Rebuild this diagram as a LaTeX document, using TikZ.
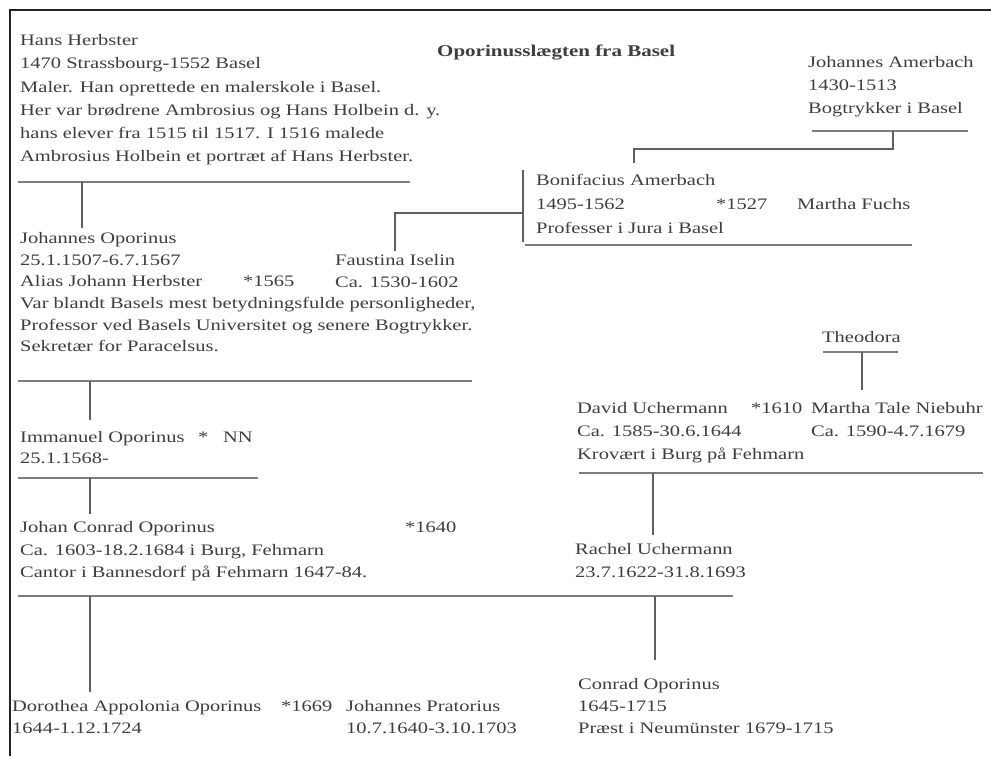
\documentclass[tikz,border=0pt]{standalone}
\usepackage{fontspec}
\setmainfont{Liberation Serif}[FakeStretch=1.28]
\definecolor{txt}{RGB}{62,62,62}
\definecolor{ulc}{RGB}{125,125,125}
\definecolor{vlc}{RGB}{95,95,95}
\definecolor{framec}{RGB}{35,35,35}
\begin{document}
\begin{tikzpicture}[x=1pt,y=-1pt,
  personbox/.style={anchor=north west, inner sep=0pt, align=left, text=txt, font=\fontsize{16}{#1}\selectfont},
  personbox/.default=22,
  smalltxt/.style={anchor=base west, inner sep=0pt, text=txt, font=\fontsize{16}{20}\selectfont},
  titletxt/.style={anchor=base west, inner sep=0pt, text=txt, font=\bfseries\fontsize{16.4}{20}\selectfont},
  underln/.style={draw=ulc, line width=2pt},
  connln/.style={draw=vlc, line width=1.2pt},
  ]
\useasboundingbox (0,0) rectangle (991,756);
\fill[white] (0,0) rectangle (991,756);
\draw[framec, line width=2.5pt] (10,756) -- (10,10) -- (991,10);

% title
\node[titletxt] (title) at (437,56) {Oporinusslægten fra Basel};

% persons
\node[personbox=23.2] (hh) at (20,34.4) {Hans Herbster\\1470 Strassbourg-1552 Basel\\Maler. Han oprettede en malerskole i Basel.\\Her var brødrene Ambrosius og Hans Holbein d. y.\\hans elever fra 1515 til 1517. I 1516 malede\\Ambrosius Holbein et portræt af Hans Herbster.};
\node[personbox=23] (ja) at (808,56.4) {Johannes Amerbach\\1430-1513\\Bogtrykker i Basel};
\node[personbox=24] (ba) at (536,174.4) {Bonifacius Amerbach\\1495-1562\\Professer i Jura i Basel};
\node[smalltxt] (bam) at (716,209.5) {*1527};
\node[smalltxt] (mf) at (797,209.5) {Martha Fuchs};
\node[personbox=21.6] (jo) at (20,232.4) {Johannes Oporinus\\25.1.1507-6.7.1567\\Alias Johann Herbster\\Var blandt Basels mest betydningsfulde personligheder,\\Professor ved Basels Universitet og senere Bogtrykker.\\Sekretær for Paracelsus.};
\node[smalltxt] (jom) at (243,286.7) {*1565};
\node[personbox=21.6] (fi) at (335,254.6) {Faustina Iselin\\Ca. 1530-1602};
\node[personbox] (th) at (822,331.4) {Theodora};
\node[personbox=23] (du) at (577,402.4) {David Uchermann\\Ca. 1585-30.6.1644\\Krovært i Burg på Fehmarn};
\node[smalltxt] (dum) at (751,413.5) {*1610};
\node[personbox=23] (mt) at (811,402.4) {Martha Tale Niebuhr\\Ca. 1590-4.7.1679};
\node[personbox=21] (im) at (20,431.4) {Immanuel Oporinus\\25.1.1568-};
\node[smalltxt] (imm) at (198,442.5) {*};
\node[smalltxt] (nn) at (223,442.5) {NN};
\node[personbox=23] (ru) at (575,543.4) {Rachel Uchermann\\23.7.1622-31.8.1693};
\node[personbox=22.5] (jc) at (20,521.4) {Johan Conrad Oporinus\\Ca. 1603-18.2.1684 i Burg, Fehmarn\\Cantor i Bannesdorf på Fehmarn 1647-84.};
\node[smalltxt] (jcm) at (405,532.5) {*1640};
\node[personbox=22] (do) at (12,700.4) {Dorothea Appolonia Oporinus\\1644-1.12.1724};
\node[smalltxt] (dom) at (281,711.5) {*1669};
\node[personbox=22] (jp) at (346,700.4) {Johannes Pratorius\\10.7.1640-3.10.1703};
\node[personbox=22] (co) at (578,678.4) {Conrad Oporinus\\1645-1715\\Præst i Neumünster 1679-1715};

% coordinates for lines
\coordinate (hhL) at (18,182);  \coordinate (hhR) at (410,182);
\coordinate (hhD) at (82,182);  \coordinate (joT) at (82,228);
\coordinate (jaL) at (812,131); \coordinate (jaR) at (968,131);
\coordinate (jaD) at (893,131); \coordinate (jaE) at (893,149);
\coordinate (baE) at (634,149); \coordinate (baT) at (634,163);
\coordinate (brT) at (523,170); \coordinate (brB) at (523,242);
\coordinate (brM) at (523,213); \coordinate (fiE) at (395,213);
\coordinate (fiT) at (395,251);
\coordinate (baL) at (525,245); \coordinate (baR) at (912,245);
\coordinate (joL) at (18,381);  \coordinate (joR) at (472,381);
\coordinate (joD) at (90,381);  \coordinate (imT) at (90,420);
\coordinate (thL) at (823,352); \coordinate (thR) at (898,352);
\coordinate (thD) at (862,352); \coordinate (mtT) at (862,390);
\coordinate (duL) at (579,473); \coordinate (duR) at (983,473);
\coordinate (duD) at (653,473); \coordinate (ruT) at (653,535);
\coordinate (imL) at (18,478);  \coordinate (imR) at (258,478);
\coordinate (imD) at (90,478);  \coordinate (jcT) at (90,514);
\coordinate (jcL) at (18,596);  \coordinate (jcR) at (733,596);
\coordinate (jcD) at (90,596);  \coordinate (doT) at (90,692);
\coordinate (ruD) at (655,596); \coordinate (coT) at (655,660);

% underlines
\draw[underln] (hhL) -- (hhR);
\draw[underln] (jaL) -- (jaR);
\draw[underln] (baL) -- (baR);
\draw[underln] (joL) -- (joR);
\draw[underln] (thL) -- (thR);
\draw[underln] (duL) -- (duR);
\draw[underln] (imL) -- (imR);
\draw[underln] (jcL) -- (jcR);

% connectors
\draw[connln] (hhD) -- (joT);
\draw[connln] (jaD) -- (jaE) -- (baE) -- (baT);
\draw[connln] (brT) -- (brB);
\draw[connln] (brM) -- (fiE) -- (fiT);
\draw[connln] (joD) -- (imT);
\draw[connln] (thD) -- (mtT);
\draw[connln] (duD) -- (ruT);
\draw[connln] (imD) -- (jcT);
\draw[connln] (jcD) -- (doT);
\draw[connln] (ruD) -- (coT);
\end{tikzpicture}
\end{document}
